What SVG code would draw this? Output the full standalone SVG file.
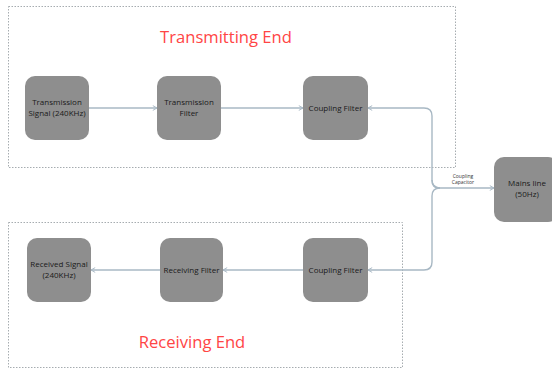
<svg xmlns="http://www.w3.org/2000/svg" width="552" height="370" viewBox="0 0 552 370">
<style>
.box{fill:none;stroke:#a6acb0;stroke-width:1;stroke-dasharray:1.5 1.5}
.node{fill:#8e8e8e}
.nt{font-family:"Open Sans","Noto Sans",sans-serif;font-size:8px;fill:#1a1a1a;text-anchor:middle}
.title{font-family:"Open Sans","Noto Sans",sans-serif;font-size:16.6px;fill:#ff4545;text-anchor:middle}
.small{font-family:"Open Sans","Noto Sans",sans-serif;font-size:5px;fill:#333;text-anchor:middle}
.conn{fill:none;stroke:#a8b8c4;stroke-width:1.4}
</style>
<defs>
<marker id="arr" viewBox="0 0 10 10" refX="9" refY="5" markerWidth="6" markerHeight="6" orient="auto" markerUnits="userSpaceOnUse">
<path d="M2,1 L9,5 L2,9" fill="none" stroke="#a8b8c4" stroke-width="1.6"/>
</marker>
</defs>
<rect class="box" x="8.5" y="6.5" width="447" height="161"/>
<rect class="box" x="8.5" y="222.5" width="394" height="145"/>
<text class="title" x="226" y="43">Transmitting End</text>
<text class="title" x="192" y="348">Receiving End</text>
<g id="connectors">
<line class="conn" x1="89" y1="108" x2="157" y2="108" marker-end="url(#arr)"/>
<line class="conn" x1="221" y1="108" x2="303" y2="108" marker-end="url(#arr)"/>
<path class="conn" d="M440,188 Q432,188 432,180 L432,116 Q432,108 424,108 L368,108" marker-end="url(#arr)"/>
<path class="conn" d="M432,180 Q432,188 440,188 L494,188" marker-end="url(#arr)"/>
<path class="conn" d="M440,188 Q432,188 432,196 L432,262 Q432,270 424,270 L368,270" marker-end="url(#arr)"/>
<line class="conn" x1="303" y1="270" x2="223" y2="270" marker-end="url(#arr)"/>
<line class="conn" x1="160" y1="270" x2="91" y2="270" marker-end="url(#arr)"/>
<text class="small" x="463" y="178">Coupling</text>
<text class="small" x="463" y="184">Capacitor</text>
</g>
<g id="tx-signal"><rect class="node" x="25" y="76" width="64" height="64" rx="10"/><text class="nt" x="57" y="105">Transmission</text><text class="nt" x="57" y="116">Signal (240KHz)</text></g>
<g id="tx-filter"><rect class="node" x="157" y="76" width="64" height="64" rx="10"/><text class="nt" x="189" y="105">Transmission</text><text class="nt" x="189" y="116">Filter</text></g>
<g id="tx-coupling"><rect class="node" x="303" y="76" width="65" height="64" rx="10"/><text class="nt" x="335.5" y="111">Coupling Filter</text></g>
<g id="mains"><rect class="node" x="494" y="157" width="64" height="65" rx="10"/><text class="nt" x="527" y="186">Mains line</text><text class="nt" x="527" y="197">(50Hz)</text></g>
<g id="rx-signal"><rect class="node" x="27" y="238" width="64" height="64" rx="10"/><text class="nt" x="59" y="267">Received Signal</text><text class="nt" x="59" y="278">(240KHz)</text></g>
<g id="rx-filter"><rect class="node" x="160" y="238" width="63" height="64" rx="10"/><text class="nt" x="191.5" y="273">Receiving Filter</text></g>
<g id="rx-coupling"><rect class="node" x="303" y="238" width="65" height="64" rx="10"/><text class="nt" x="335.5" y="273">Coupling Filter</text></g>
</svg>
